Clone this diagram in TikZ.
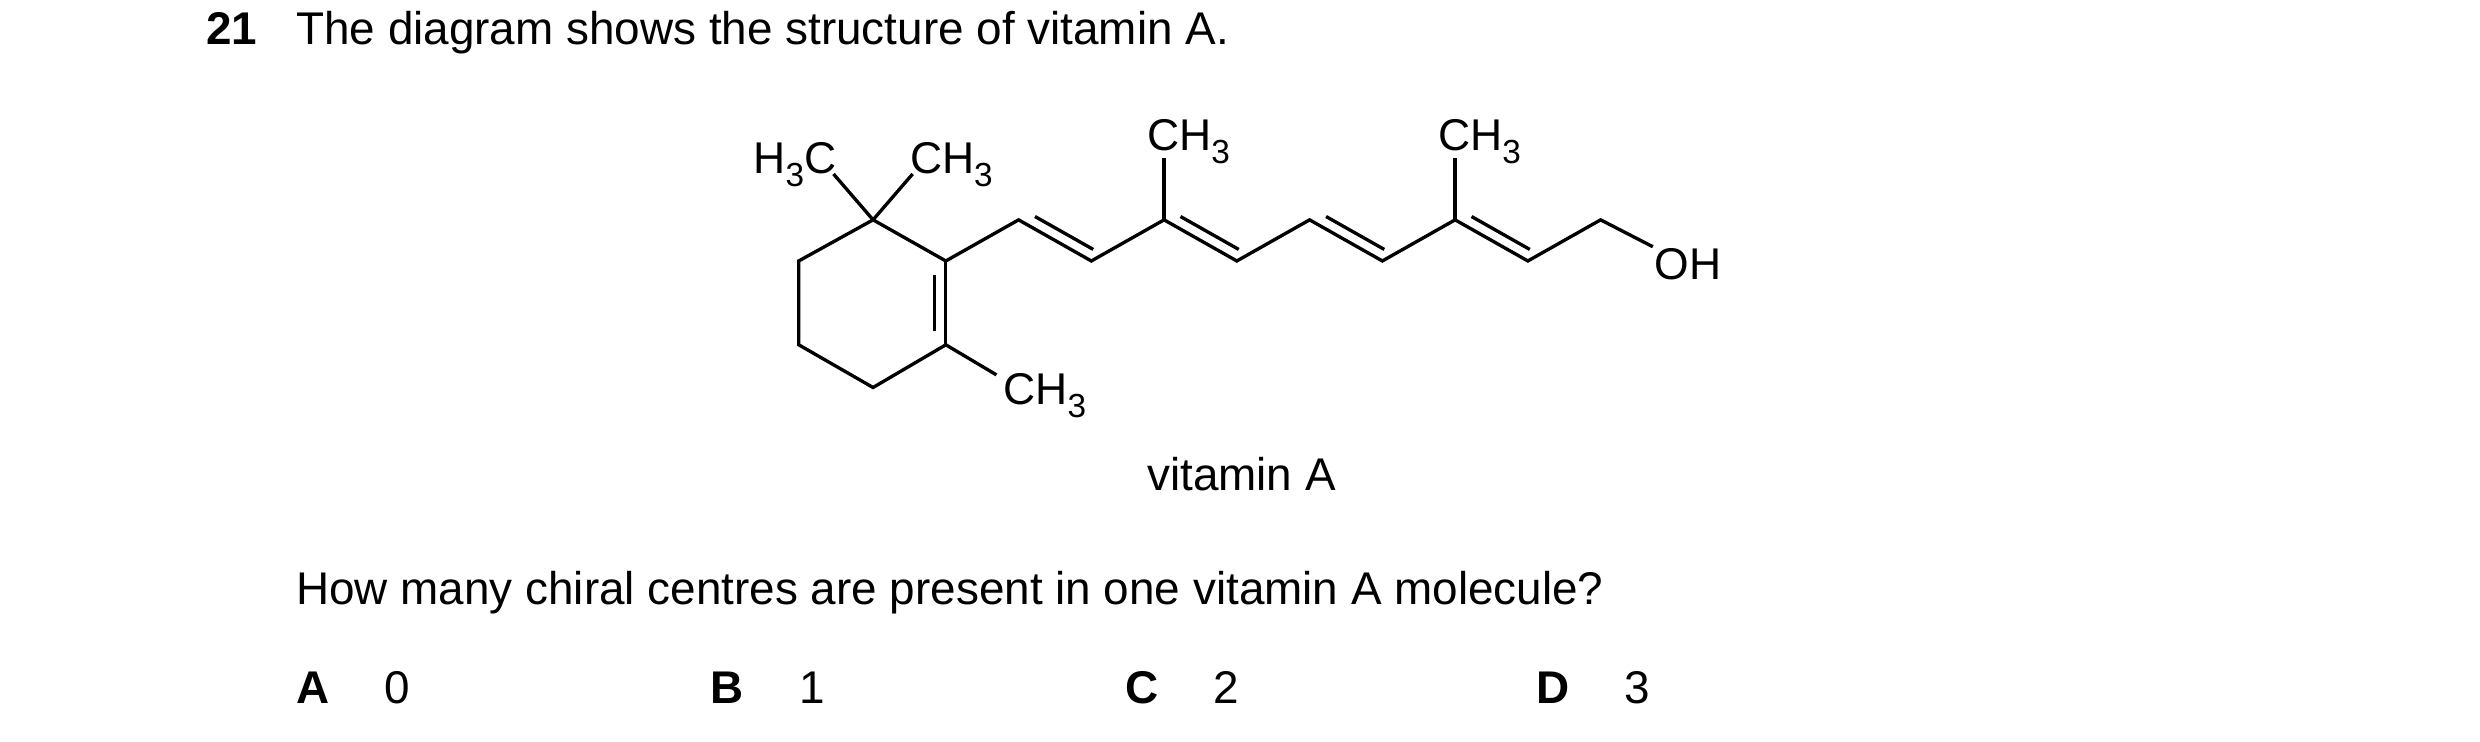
\documentclass[tikz,border=0pt]{standalone}
\usepackage{fontspec}
\setmainfont{Liberation Sans}
\usetikzlibrary{calc}
\newcommand{\lowsub}[1]{\raisebox{-0.55ex}{\fontsize{12}{12}\selectfont #1}}
\tikzset{
  bond/.style={line width=1.2pt, line join=miter},
  lbl/.style={inner sep=0pt, anchor=base west, font=\fontsize{16}{19}\selectfont},
  txt/.style={inner sep=0pt, anchor=base west, font=\fontsize{16.5}{19}\selectfont}
}
\begin{document}
\begin{tikzpicture}[x=0.02cm,y=-0.02cm]
\useasboundingbox (0,0) rectangle (1568,469);
% Question text
\node[txt,font=\fontsize{16.5}{19}\selectfont\bfseries] (num) at (130,28) {21};
\node[txt] (title) at (187,28) {The diagram shows the structure of vitamin A.};

% Ring atoms
\coordinate (r1) at (552,139);
\coordinate (r2) at (505,165);
\coordinate (r3) at (505,218);
\coordinate (r4) at (552,245);
\coordinate (r5) at (598,218);
\coordinate (r6) at (598,165);
% Chain atoms
\foreach \i/\x in {1/644,3/736,5/828,7/920,9/1012}
  \coordinate (c\i) at (\x,139);
\foreach \i/\x in {2/690,4/782,6/874,8/966}
  \coordinate (c\i) at (\x,165);
\coordinate (m1) at (736,100);
\coordinate (m2) at (920,100);
\coordinate (mA) at (527,110);
\coordinate (mB) at (577,110);
\coordinate (mC) at (630,237);
\coordinate (oh) at (1045,156);

% Labels
\node[lbl] (h3c) at (476,110) {H\lowsub{3}C};
\node[lbl] (ch3a) at (575,110) {CH\lowsub{3}};
\node[lbl] (ch3b) at (725,95) {CH\lowsub{3}};
\node[lbl] (ch3c) at (909,95) {CH\lowsub{3}};
\node[lbl] (ch3d) at (634,256) {CH\lowsub{3}};
\node[lbl] (ohl) at (1046,177) {OH};

% Single bonds
\draw[bond] (r6) -- (r1) -- (r2) -- (r3) -- (r4) -- (r5);
\draw[bond] (r5) -- (r6);
\draw[bond] (mA) -- (r1) -- (mB);
\draw[bond] (r5) -- (mC);
\draw[bond] (r6) -- (c1) -- (c2) -- (c3) -- (c4) -- (c5) -- (c6) -- (c7) -- (c8) -- (c9) -- (oh);
\draw[bond] (c3) -- (m1);
\draw[bond] (c7) -- (m2);

% Second lines of the double bonds
\draw[bond] ($(r6)+(-7,9)$) -- ($(r5)+(-7,-9)$);
\foreach \a/\b in {c1/c2,c3/c4,c5/c6,c7/c8}
  \draw[bond] ($(\a)!0.15!(\b)+(3.5,-6)$) -- ($(\a)!0.95!(\b)+(3.5,-6)$);

\node[txt] (cap) at (725,310) {vitamin A};

% Question and options
\node[txt] (q) at (187,382) {How many chiral centres are present in one vitamin A molecule?};
\foreach \l/\v/\x in {A/0/187,B/1/449,C/2/711,D/3/971}{
  \node[txt,font=\fontsize{16.5}{19}\selectfont\bfseries] (opt\l) at (\x,445) {\l};
  \node[txt] (val\l) at (\x+56,445) {\v};
}
\end{tikzpicture}
\end{document}
